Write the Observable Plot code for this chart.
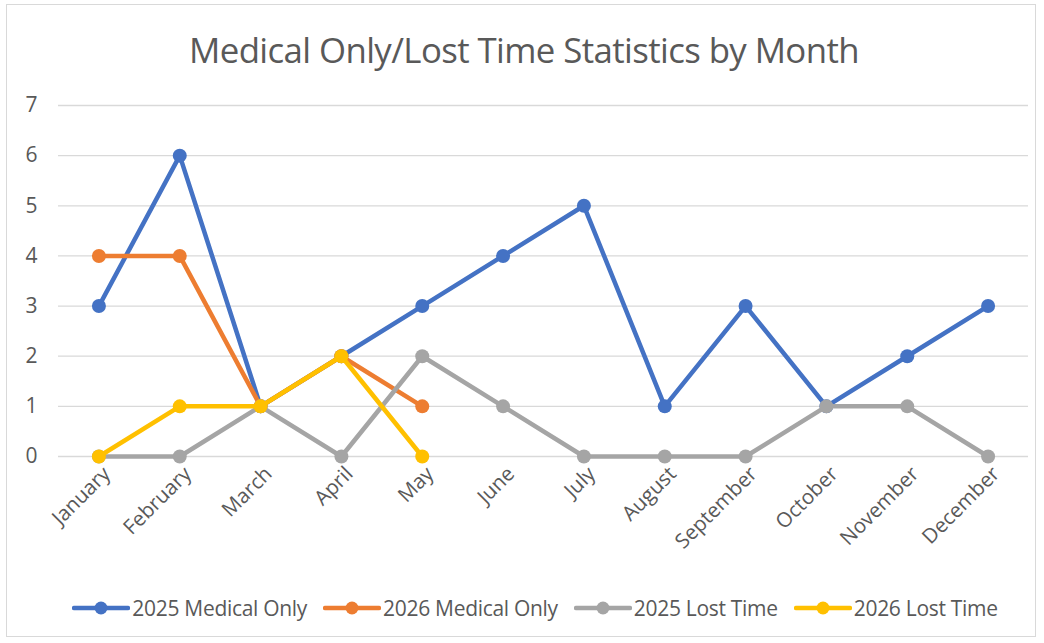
<!DOCTYPE html>
<html>
<head>
<meta charset="utf-8">
<script src="https://cdn.jsdelivr.net/npm/d3@7"></script>
<script src="https://cdn.jsdelivr.net/npm/@observablehq/plot@0.6"></script>
<style>
  body { margin: 0; background: #fff; font-family: "Open Sans", sans-serif; }
  #frame { position: absolute; left: 6px; top: 4px; width: 1030px; height: 633px; border: 1px solid #d9d9d9; box-sizing: border-box; }
  #title { position: absolute; left: 0; top: 26px; width: 1048px; text-align: center; font-size: 34.8px; color: #595959; letter-spacing: -0.6px; }
  #chart { position: absolute; left: 0; top: 80px; }
  #legend { position: absolute; left: 0; top: 594px; width: 1070px; display: flex; justify-content: center; gap: 16px; font-size: 21px; color: #595959; letter-spacing: -0.3px; }
  .item { display: flex; align-items: center; gap: 2px; }
</style>
</head>
<body>
<div id="frame"></div>
<div id="title">Medical Only/Lost Time Statistics by Month</div>
<div id="chart"></div>
<div id="legend"></div>
<script>
const months = ["January","February","March","April","May","June","July","August","September","October","November","December"];
const seriesNames = ["2025 Medical Only","2026 Medical Only","2025 Lost Time","2026 Lost Time"];
const colors = ["#4472C4","#ED7D31","#A5A5A5","#FFC000"];
const medical2025 = [3,6,1,2,3,4,5,1,3,1,2,3];
const medical2026 = [4,4,1,2,1];
const lost2025 = [0,0,1,0,2,1,0,0,0,1,1,0];
const lost2026 = [0,1,1,2,0];
const yTicks = [0,1,2,3,4,5,6,7];

const allSeries = [medical2025, medical2026, lost2025, lost2026];
const data = [];
allSeries.forEach((vals, si) => vals.forEach((v, i) => data.push({series: seriesNames[si], month: months[i], value: v})));

const marks = [
  Plot.gridY(yTicks, {stroke: "#d9d9d9", strokeOpacity: 1, strokeWidth: 1.3}),
  Plot.axisY(yTicks, {tickSize: 0, tickPadding: 21, fontSize: 21, fill: "#595959", label: null, tickFormat: d => String(d)}),
  Plot.axisX(months, {tickSize: 0, tickPadding: 14, dx: 8, tickRotate: -45, fontSize: 20.5, fill: "#595959", label: null})
];
seriesNames.forEach((name, si) => {
  const d = data.filter(r => r.series === name);
  marks.push(Plot.line(d, {x: "month", y: "value", stroke: colors[si], strokeWidth: 4.5}));
  marks.push(Plot.dot(d, {x: "month", y: "value", fill: colors[si], r: 7, stroke: "none"}));
});

const chart = Plot.plot({
  width: 1044,
  height: 480,
  marginLeft: 58,
  marginRight: 16,
  marginTop: 25,
  marginBottom: 104,
  style: {fontFamily: "Open Sans, sans-serif", background: "transparent"},
  x: {type: "point", domain: months, padding: 0.5, round: false},
  y: {domain: [0, 7]},
  marks
});
document.getElementById("chart").appendChild(chart);

const legend = document.getElementById("legend");
seriesNames.forEach((name, si) => {
  const item = document.createElement("div");
  item.className = "item";
  item.innerHTML = `<svg width="58" height="16"><line x1="2" y1="8" x2="56" y2="8" stroke="${colors[si]}" stroke-width="4.5" stroke-linecap="round"/><circle cx="29" cy="8" r="6.5" fill="${colors[si]}"/></svg><span>${name}</span>`;
  legend.appendChild(item);
});
</script>
</body>
</html>
